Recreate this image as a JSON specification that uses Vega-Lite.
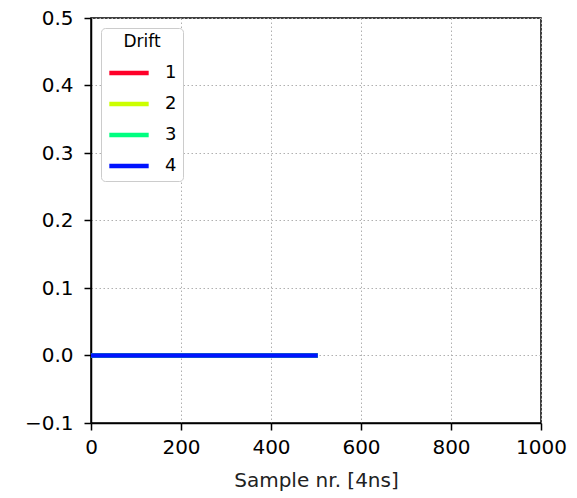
{
  "$schema": "https://vega.github.io/schema/vega-lite/v6.json",
  "width": 450,
  "height": 405,
  "autosize": {"type": "none"},
  "padding": {"left": 91, "top": 18, "right": 36, "bottom": 75},
  "background": "white",
  "config": {
    "font": "DejaVu Sans",
    "view": {"stroke": "black", "strokeWidth": 1.5},
    "axis": {
      "domainColor": "black",
      "domainWidth": 1.5,
      "tickColor": "black",
      "tickSize": 7,
      "tickWidth": 1.5,
      "labelFont": "DejaVu Sans",
      "labelFontSize": 20,
      "labelColor": "black",
      "titleFont": "DejaVu Sans",
      "titleFontSize": 20,
      "titleFontWeight": "normal",
      "titleColor": "#222",
      "gridColor": "#b0b0b0",
      "gridDash": [1.5, 2.5],
      "gridWidth": 1
    }
  },
  "data": {
    "values": [
      {"sample": 0, "value": 0, "drift": "1"},
      {"sample": 499, "value": 0, "drift": "1"},
      {"sample": 0, "value": 0, "drift": "2"},
      {"sample": 499, "value": 0, "drift": "2"},
      {"sample": 0, "value": 0, "drift": "3"},
      {"sample": 499, "value": 0, "drift": "3"},
      {"sample": 0, "value": 0, "drift": "4"},
      {"sample": 499, "value": 0, "drift": "4"}
    ]
  },
  "mark": {"type": "line", "strokeWidth": 4.5, "strokeCap": "square", "clip": true},
  "encoding": {
    "x": {
      "field": "sample",
      "type": "quantitative",
      "scale": {"domain": [0, 1000], "nice": false, "zero": false},
      "axis": {"title": "Sample nr. [4ns]", "values": [0, 200, 400, 600, 800, 1000], "format": "d", "labelPadding": 7, "titlePadding": 13, "labelFlush": false}
    },
    "y": {
      "field": "value",
      "type": "quantitative",
      "scale": {"domain": [-0.1, 0.5], "nice": false, "zero": false},
      "axis": {"title": null, "values": [-0.1, 0, 0.1, 0.2, 0.3, 0.4, 0.5], "format": ".1f", "labelPadding": 11, "labelFlush": false, "labelExpr": "replace(datum.label, '-', '−')"}
    },
    "color": {
      "field": "drift",
      "type": "nominal",
      "scale": {"domain": ["1", "2", "3", "4"], "range": ["#ff0029", "#ccff00", "#00ff80", "#0013ff"]},
      "legend": {
        "title": "Drift",
        "orient": "none",
        "legendX": 10,
        "legendY": 10,
        "symbolType": "stroke",
        "symbolStrokeWidth": 4.5,
        "symbolSize": 1550,
        "labelOffset": 14,
        "titleFontSize": 17,
        "titleFontWeight": "normal",
        "titleFont": "DejaVu Sans",
        "titleColor": "black",
        "titleAnchor": "middle",
        "titlePadding": 0,
        "labelFontSize": 18,
        "labelFont": "DejaVu Sans",
        "labelColor": "black",
        "rowPadding": 0,
        "padding": 6,
        "strokeColor": "#cccccc",
        "cornerRadius": 4,
        "fillColor": "white"
      }
    }
  }
}
